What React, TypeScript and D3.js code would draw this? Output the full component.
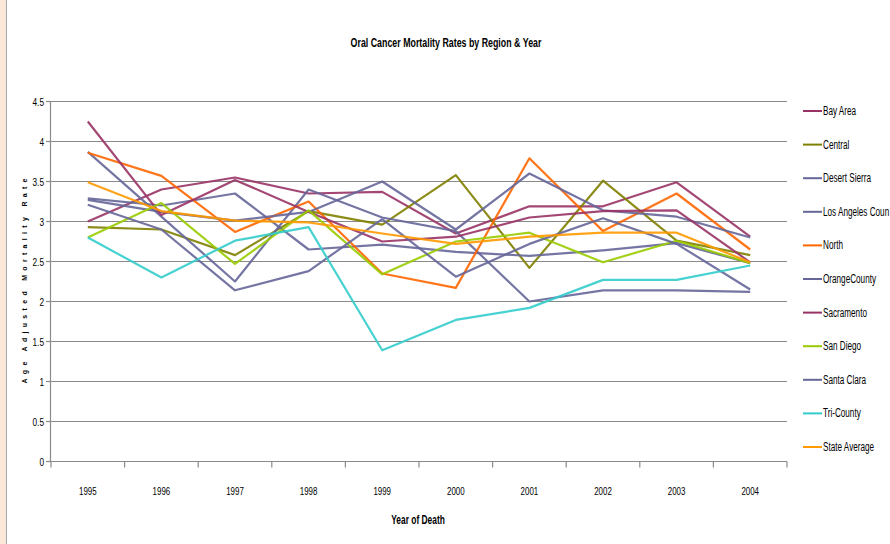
import React from 'react';
import * as d3 from 'd3';

const years = ["1995", "1996", "1997", "1998", "1999", "2000", "2001", "2002", "2003", "2004"];
const yTickValues = [0, 0.5, 1, 1.5, 2, 2.5, 3, 3.5, 4, 4.5];

const bayArea = [3.0, 3.4, 3.55, 3.35, 3.37, 2.85, 3.19, 3.19, 3.49, 2.81];
const central = [2.93, 2.9, 2.58, 3.13, 2.96, 3.58, 2.42, 3.51, 2.76, 2.58];
const desertSierra = [3.87, 3.06, 2.25, 3.4, 3.05, 2.88, 2.0, 2.14, 2.14, 2.12];
const losAngeles = [3.29, 3.2, 3.35, 2.65, 2.71, 2.62, 2.57, 2.64, 2.73, 2.48];
const north = [3.86, 3.57, 2.87, 3.25, 2.35, 2.17, 3.79, 2.88, 3.35, 2.65];
const orangeCounty = [3.27, 3.12, 3.01, 3.12, 3.5, 2.9, 3.6, 3.14, 3.06, 2.8];
const sacramento = [4.25, 3.08, 3.52, 3.12, 2.75, 2.81, 3.05, 3.13, 3.14, 2.49];
const sanDiego = [2.8, 3.23, 2.47, 3.14, 2.34, 2.75, 2.86, 2.49, 2.76, 2.48];
const santaClara = [3.21, 2.9, 2.14, 2.38, 3.03, 2.31, 2.72, 3.04, 2.72, 2.15];
const triCounty = [2.8, 2.3, 2.76, 2.93, 1.39, 1.77, 1.92, 2.27, 2.27, 2.45];
const stateAverage = [3.49, 3.13, 3.01, 2.99, 2.85, 2.72, 2.81, 2.86, 2.86, 2.49];

// legend labels as they appear in the chart (the LA label is truncated at the chart edge)
const seriesNames = ["Bay Area", "Central", "Desert Sierra", "Los Angeles Coun", "North", "OrangeCounty", "Sacramento", "San Diego", "Santa Clara", "Tri-County", "State Average"];
const seriesValues = [bayArea, central, desertSierra, losAngeles, north, orangeCounty, sacramento, sanDiego, santaClara, triCounty, stateAverage];
const seriesColors = ["#993366", "#808000", "#666699", "#666699", "#FF6600", "#666699", "#993366", "#99CC00", "#666699", "#33CCCC", "#FF9900"];

const W = 890;
const H = 544;
const left = 51;
const right = 787;
const top = 101.5;
const bottom = 461.5;
const FONT = "'Liberation Sans', Arial, sans-serif";

function Squeezed({ x, y, sx, anchor, size, weight, children, fill }: any) {
  return (
    <text
      transform={`translate(${x},${y}) scale(${sx},1)`}
      textAnchor={anchor || 'start'}
      fontFamily={FONT}
      fontSize={size}
      fontWeight={weight || 'normal'}
      fill={fill || '#000'}
    >
      {children}
    </text>
  );
}

export default function App() {
  const x = d3.scaleBand<string>().domain(years).range([left, right]);
  const y = d3.scaleLinear().domain([0, 4.5]).range([bottom, top]);
  const cx = (yr: string) => (x(yr) as number) + x.bandwidth() / 2;
  const line = d3
    .line<number>()
    .x((_, i) => cx(years[i]))
    .y((d) => y(d));

  const boundaries = years.map((yr) => x(yr) as number).concat([right]);
  const legendY0 = 111;
  const legendStep = 33.6;

  return (
    <svg width={W} height={H} style={{ position: 'absolute', left: 0, top: 0, background: '#fff' }}>
      <rect x={0} y={0} width={W} height={H} fill="#fff" />
      <rect x={0} y={0} width={6} height={H} fill="#FBE8D8" />
      <line x1={6.5} x2={6.5} y1={0} y2={H} stroke="#A8A8A8" strokeWidth={1} />

      {/* Title */}
      <Squeezed x={446} y={47} sx={0.68} anchor="middle" size={13} weight="bold">
        Oral Cancer Mortality Rates by Region &amp; Year
      </Squeezed>

      {/* Gridlines */}
      {yTickValues.map((t) => (
        <line key={'g' + t} x1={left} x2={right} y1={y(t)} y2={y(t)} stroke="#8A8A8A" strokeWidth={1.2} />
      ))}

      {/* Y axis */}
      <line x1={left - 0.5} x2={left - 0.5} y1={top} y2={bottom} stroke="#8A8A8A" strokeWidth={1.2} />
      {yTickValues.map((t) => (
        <g key={'yt' + t}>
          <line x1={left - 5} x2={left} y1={y(t)} y2={y(t)} stroke="#8A8A8A" strokeWidth={1.2} />
          <Squeezed x={44} y={y(t) + 4} sx={0.75} anchor="end" size={11}>
            {String(t)}
          </Squeezed>
        </g>
      ))}

      {/* X axis ticks */}
      {boundaries.map((b, i) => (
        <line key={'xt' + i} x1={b} x2={b} y1={bottom} y2={bottom + 6} stroke="#8A8A8A" strokeWidth={1.2} />
      ))}
      {years.map((yr) => (
        <Squeezed key={'xl' + yr} x={cx(yr)} y={495} sx={0.72} anchor="middle" size={11}>
          {yr}
        </Squeezed>
      ))}

      {/* Axis titles */}
      <Squeezed x={418} y={524} sx={0.7} anchor="middle" size={12} weight="bold">
        Year of Death
      </Squeezed>
      <text
        transform={`translate(27,281) rotate(-90)`}
        textAnchor="middle"
        fontFamily={FONT}
        fontSize={7}
        fontWeight="bold"
        textLength={205}
        lengthAdjust="spacing"
        fill="#000"
      >
        Age Adjusted Mortality Rate
      </text>

      {/* Series lines */}
      {seriesValues.map((vals, i) => (
        <path
          key={'s' + i}
          d={line(vals) || ''}
          fill="none"
          stroke={seriesColors[i]}
          strokeWidth={2.2}
          strokeLinejoin="round"
          opacity={0.9}
        />
      ))}

      {/* Legend */}
      {seriesNames.map((name, i) => {
        const ly = legendY0 + i * legendStep;
        return (
          <g key={'lg' + i}>
            <line x1={803} x2={822} y1={ly} y2={ly} stroke={seriesColors[i]} strokeWidth={2} />
            <Squeezed x={823} y={ly + 4} sx={0.68} size={12}>
              {name}
            </Squeezed>
          </g>
        );
      })}
    </svg>
  );
}
